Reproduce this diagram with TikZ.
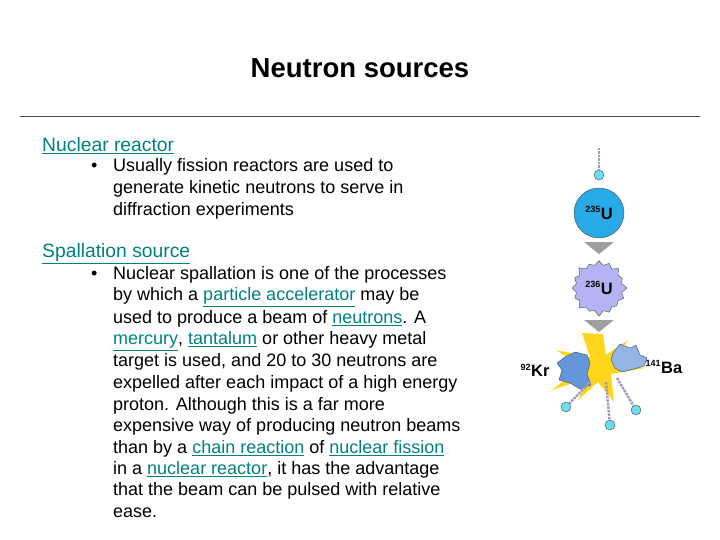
\documentclass[tikz,border=0pt]{standalone}
\usepackage{fontspec}
\setmainfont{Liberation Sans}
\usetikzlibrary{shapes.geometric,shapes.misc,shapes.symbols}
\definecolor{lnk}{RGB}{0,128,128}
\definecolor{ublue}{RGB}{40,170,230}
\definecolor{ulil}{RGB}{180,180,245}
\definecolor{frag}{RGB}{100,150,220}
\definecolor{nblue}{RGB}{110,220,240}
\newcommand{\lk}[1]{\textcolor{lnk}{\underline{#1}}}
\begin{document}
\begin{tikzpicture}[x=1pt,y=-1pt,
  txt/.style={anchor=west,inner sep=0pt,font=\fontsize{18}{20}\selectfont},
  hd/.style={anchor=west,inner sep=0pt,font=\fontsize{19.3}{20}\selectfont},
  iso/.style={font=\bfseries\fontsize{16.5}{17}\selectfont,inner sep=0pt},
  neut/.style={circle,draw=black!70,fill=nblue,minimum size=10pt,inner sep=0pt},
  dots/.style={densely dotted,line width=2.5pt,draw=blue!30!gray!60},
  garrow/.style={fill=gray!75,draw=none}]
\useasboundingbox (0,0) rectangle (720,540);
\node[font=\bfseries\fontsize{27.5}{30}\selectfont] (title) at (360,68) {Neutron sources};
\coordinate (r1) at (20,116); \coordinate (r2) at (700,116);
\draw[black!70] (r1) -- (r2);
\node[hd] (h1) at (42,146) {\lk{Nuclear reactor}};
\node[txt] (b1) at (91,167) {•};
\node[txt] (l1) at (113,167) {Usually fission reactors are used to};
\node[txt] (l2) at (113,189) {generate kinetic neutrons to serve in};
\node[txt] (l3) at (113,211) {diffraction experiments};
\node[hd] (h2) at (42,254) {\lk{Spallation source}};
\node[txt] (b2) at (91,275) {•};
\node[txt] (m1) at (113,275) {Nuclear spallation is one of the processes};
\node[txt] (m2) at (113,297) {by which a \lk{particle accelerator} may be};
\node[txt] (m3) at (113,319) {used to produce a beam of \lk{neutrons}. A};
\node[txt] (m4) at (113,341) {\lk{mercury}, \lk{tantalum} or other heavy metal};
\node[txt] (m5) at (113,362) {target is used, and 20 to 30 neutrons are};
\node[txt] (m6) at (113,384) {expelled after each impact of a high energy};
\node[txt] (m7) at (113,406) {proton. Although this is a far more};
\node[txt] (m8) at (113,427) {expensive way of producing neutron beams};
\node[txt] (m9) at (113,449) {than by a \lk{chain reaction} of \lk{nuclear fission}};
\node[txt] (m10) at (113,470) {in a \lk{nuclear reactor}, it has the advantage};
\node[txt] (m11) at (113,491) {that the beam can be pulsed with relative};
\node[txt] (m12) at (113,513) {ease.};
% figure
\coordinate (ntop) at (599,148);
\node[neut] (n0) at (599,175) {};
\draw[dots] (ntop) -- (n0);
\node[circle,draw=black!70,fill=ublue,minimum size=50pt,inner sep=0pt,iso] (u235) at (599,213) {\textsuperscript{\fontsize{9}{9}\selectfont 235}U};
\fill[garrow] (584,242) -- (614,242) -- (599,254) -- cycle;
\node[starburst,starburst points=16,starburst point height=6pt,draw=black!70,fill=ulil,minimum size=58pt,inner sep=0pt,iso] (u236) at (599,288) {\textsuperscript{\fontsize{9}{9}\selectfont 236}U};
\fill[garrow] (584,320) -- (614,320) -- (599,332) -- cycle;
% explosion
\fill[yellow!70!orange!90] (603,334) -- (606,355) -- (628,340) -- (613,362) -- (645,368) -- (611,374) -- (614,402) -- (598,382) -- (578,400) -- (588,378) -- (552,390) -- (582,366) -- (556,350) -- (590,357) -- (582,333) -- cycle;
\node[inner sep=0pt] (expl) at (598,366) {};
\draw[black!70,fill=frag] (565,357) -- (575,352) -- (587,355) -- (590,363) -- (587,374) -- (591,385) -- (580,389) -- (570,383) -- (559,380) -- (562,370) -- (557,363) -- cycle;
\draw[black!70,fill=frag!70!white] (613,353) -- (620,344) -- (630,348) -- (636,345) -- (640,355) -- (647,358) -- (644,366) -- (634,369) -- (622,372) -- (615,368) -- (611,360) -- cycle;
\node[iso] (kr) at (535,370) {\textsuperscript{\fontsize{9}{9}\selectfont 92}Kr};
\node[iso] (ba) at (664,367) {\textsuperscript{\fontsize{9}{9}\selectfont 141}Ba};
\coordinate (s1) at (590,382); \coordinate (s2) at (606,382); \coordinate (s3) at (617,378);
\node[neut] (n1) at (566,407) {};
\node[neut] (n2) at (610,425) {};
\node[neut] (n3) at (636,410) {};
\draw[dots] (s1) -- (n1); \draw[dots] (s2) -- (n2); \draw[dots] (s3) -- (n3);
\end{tikzpicture}
\end{document}
